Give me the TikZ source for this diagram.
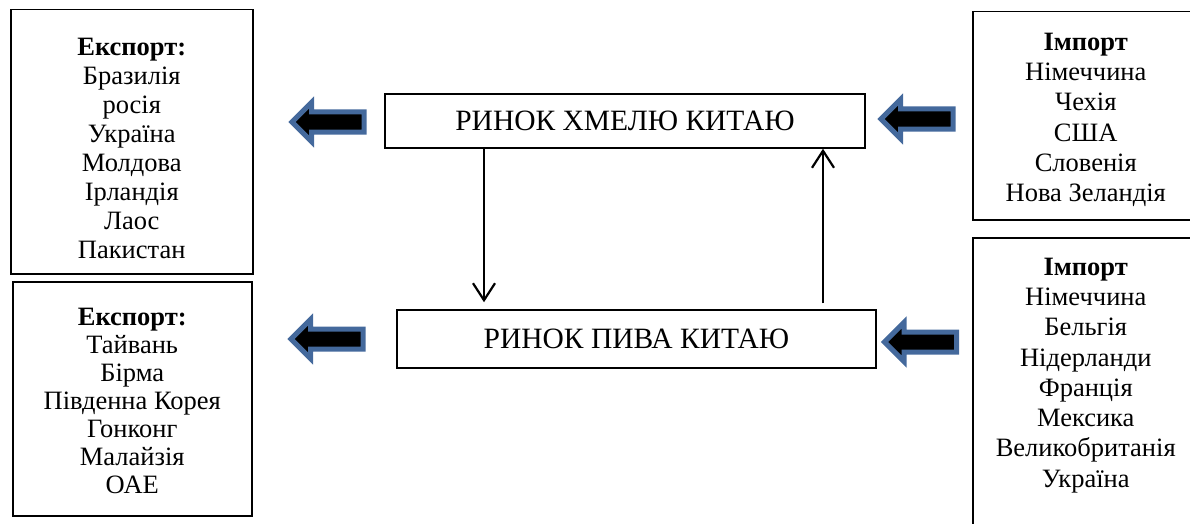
\documentclass[tikz,border=0pt]{standalone}
\usepackage{fontspec}
\setmainfont{Liberation Serif}
\usetikzlibrary{shapes,shapes.arrows}
\usetikzlibrary{arrows.meta}
\definecolor{arrowblue}{HTML}{44699C}
\newcommand{\countries}[3]{\parbox[c][#1][t]{#2}{\centering #3}}
\tikzstyle{listbox}=[draw,line width=1.5pt,anchor=north west,inner xsep=0pt]
\tikzstyle{market}=[draw,line width=1.5pt,inner sep=0pt,font=\fontsize{29.5}{35}\selectfont]
\tikzstyle{fatarrow}=[single arrow,shape border rotate=180,fill=black,draw=arrowblue,line width=5pt,minimum height=72pt,single arrow head extend=9.5pt,text height=0pt,text depth=0pt,inner xsep=0pt,inner ysep=7.5pt]
\tikzstyle{flow}=[line width=2.2pt,-{Straight Barb[length=17pt,width=22pt]}]

\begin{document}
\begin{tikzpicture}[x=1pt,y=-1pt]

    \useasboundingbox (0,0) rectangle (1190,524);
    \clip (0,0) rectangle (1190,524);

    % markets
    \node[market, minimum width=480pt, minimum height=54pt] (hop) at (625,121) {РИНОК ХМЕЛЮ КИТАЮ};
    \node[market, minimum width=479pt, minimum height=58pt] (beer) at (636.5,339) {РИНОК ПИВА КИТАЮ};

    % export
    \node[listbox, inner ysep=28pt, font=\fontsize{26.5}{29}\selectfont] (exphop) at (10,9)
        {\countries{208pt}{242pt}{\textbf{Експорт:}\\Бразилія\\росія\\Україна\\Молдова\\Ірландія\\Лаос\\Пакистан}};
    \node[listbox, inner ysep=26pt, font=\fontsize{26.5}{28}\selectfont] (expbeer) at (12,281)
        {\countries{182pt}{239pt}{\textbf{Експорт:}\\Тайвань\\Бірма\\Південна Корея\\Гонконг\\Малайзія\\ОАЕ}};

    % import
    \node[listbox, inner ysep=21pt, font=\fontsize{26.5}{30.3}\selectfont] (imphop) at (972,11)
        {\countries{166pt}{226pt}{\textbf{Імпорт}\\Німеччина\\Чехія\\США\\Словенія\\Нова Зеландія}};
    \node[listbox, inner ysep=20pt, font=\fontsize{26.5}{30.3}\selectfont] (impbeer) at (972,237)
        {\countries{270pt}{226pt}{\textbf{Імпорт}\\Німеччина\\Бельгія\\Нідерланди\\Франція\\Мексика\\Великобританія\\Україна}};

    \foreach \pos/\name in {{(333,122)/ahl}, {(332,339)/abl}, {(922,119)/ahr}, {(925.5,342)/abr}}
        \node[fatarrow] (\name) at \pos {};

    \draw[flow, shorten >=7pt] ([xshift=-141pt]hop.south) -- ([xshift=-141pt]hop.south |- beer.north);
    \draw[flow, shorten <=6pt] ([xshift=186.5pt]beer.north) -- ([xshift=186.5pt]beer.north |- hop.south);

\end{tikzpicture}
\end{document}
